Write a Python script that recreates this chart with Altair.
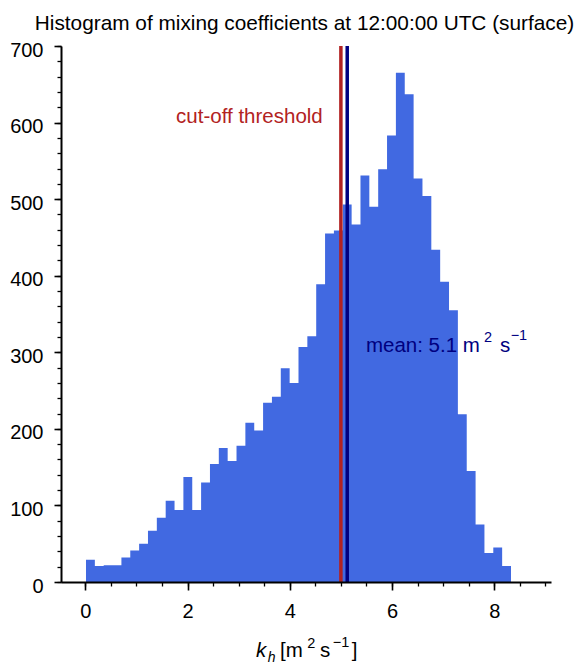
import altair as alt
import pandas as pd

# ---- data ----
counts = [29, 21, 22, 22, 32, 41, 50, 67, 84, 106,
          94, 137, 94, 130, 154, 175, 158, 178, 208, 198,
          234, 242, 279, 260, 307, 321, 389, 455, 459, 493,
          467, 531, 490, 539, 583, 665, 637, 527, 504, 434,
          392, 355, 219, 145, 75, 38, 45, 21]
bin_start = 0.014
bin_width = 0.1732
threshold = 5.0
mean_value = 5.124
x_major = [0, 2, 4, 6, 8]
x_minor = [i * 0.5 for i in range(0, 19)]
y_major = list(range(0, 701, 100))
y_minor = list(range(0, 701, 20))

edges = [bin_start + i * bin_width for i in range(len(counts) + 1)]
# step outline of the histogram: each bin's left edge with its count, plus the closing right edge
df = pd.DataFrame({"edge": edges, "count": counts + [counts[-1]]})

FONT = "Liberation Sans"
W, H = 490, 536
xscale = alt.Scale(domain=[-0.475, 9.11], nice=False, zero=False)
yscale = alt.Scale(domain=[0, 700], nice=False)

x_axis_major = alt.Axis(values=x_major, title=None, grid=False, tickSize=8, tickWidth=1.6,
                        domainWidth=2, domainColor="black", tickColor="black",
                        labelFont=FONT, labelFontSize=20, labelColor="black",
                        labelPadding=11, labelFlush=False, labelOverlap=False,
                        format="d", zindex=1, orient="bottom")
y_axis_major = alt.Axis(values=y_major, title=None, grid=False, tickSize=7, tickWidth=1.6,
                        domainWidth=2, domainColor="black", tickColor="black",
                        labelFont=FONT, labelFontSize=20, labelColor="black",
                        labelPadding=11, labelFlush=False, labelOverlap=False,
                        labelBaseline="middle", labelOffset=4, zindex=1, orient="left")
x_axis_minor = alt.Axis(values=x_minor, title=None, grid=False, tickSize=4, tickWidth=1.3,
                        tickColor="black", domain=False, labels=False, zindex=1,
                        orient="bottom")
y_axis_minor = alt.Axis(values=y_minor, title=None, grid=False, tickSize=4, tickWidth=1.3,
                        tickColor="black", domain=False, labels=False, zindex=1,
                        orient="left")

bars = alt.Chart(df).mark_area(color="#4169E1", interpolate="step-after", opacity=1).encode(
    x=alt.X("edge:Q", scale=xscale, axis=x_axis_major),
    y=alt.Y("count:Q", scale=yscale, axis=y_axis_major),
    y2=alt.Y2Datum(0),
)

minor = alt.Chart(df).mark_point(opacity=0).encode(
    x=alt.X("edge:Q", scale=xscale, axis=x_axis_minor),
    y=alt.Y("count:Q", scale=yscale, axis=y_axis_minor),
)

lines_df = pd.DataFrame({"x": [threshold, mean_value], "c": ["#B22222", "#000080"]})
rules = alt.Chart(lines_df).mark_rule(strokeWidth=3.5).encode(
    x=alt.X("x:Q", scale=xscale, axis=None),
    color=alt.Color("c:N", scale=None, legend=None),
)


def dtext(txt, xv, yv, color, size=20.5, align="left", dx=0, dy=0, style="normal"):
    return alt.Chart(pd.DataFrame({"t": [txt]})).mark_text(
        font=FONT, fontSize=size, color=color, align=align, baseline="alphabetic",
        dx=dx, dy=dy, fontStyle=style,
    ).encode(
        x=alt.XDatum(xv, type="quantitative", scale=xscale, axis=None),
        y=alt.YDatum(yv, type="quantitative", scale=yscale, axis=None),
        text="t:N",
    )


def ptext(txt, px, py, size=20.5, align="left", style="normal", color="black"):
    return alt.Chart(pd.DataFrame({"t": [txt]})).mark_text(
        font=FONT, fontSize=size, color=color, align=align, baseline="alphabetic",
        fontStyle=style,
    ).encode(x=alt.value(px), y=alt.value(py), text="t:N")


cut_label = dtext("cut-off threshold", 4.645, 599, "#B22222", align="right")
mean_parts = [
    dtext("mean: 5.1 m", 5.49, 300, "#000080"),
    dtext("2", 5.49, 300, "#000080", size=14.5, dx=118, dy=-10.5),
    dtext("s", 5.49, 300, "#000080", dx=134),
    dtext("\u22121", 5.49, 300, "#000080", size=14.5, dx=144.7, dy=-12),
]

title = ptext("Histogram of mixing coefficients at 12:00:00 UTC (surface)", 243.5, -16,
              size=20.8, align="center")
xt_base = 610.7
xtitle = [
    ptext("k", 195, xt_base, style="italic"),
    ptext("h", 206.7, xt_base + 5, size=14, style="italic"),
    ptext("[m", 219, xt_base),
    ptext("2", 246.3, xt_base - 8.5, size=14.5),
    ptext("s", 259, xt_base),
    ptext("\u22121", 271.7, xt_base - 9.5, size=14.5),
    ptext("]", 290.7, xt_base),
]

chart = alt.layer(bars, minor, rules, cut_label, *mean_parts, title, *xtitle).resolve_axis(
    x="independent", y="independent"
).properties(
    width=W, height=H,
    autosize=alt.AutoSizeParams(type="none"),
    padding={"left": 53, "top": 38, "right": 26, "bottom": 82},
).configure_view(stroke=None)

chart.save("out.html", embed_options={"renderer": "svg", "actions": False})
